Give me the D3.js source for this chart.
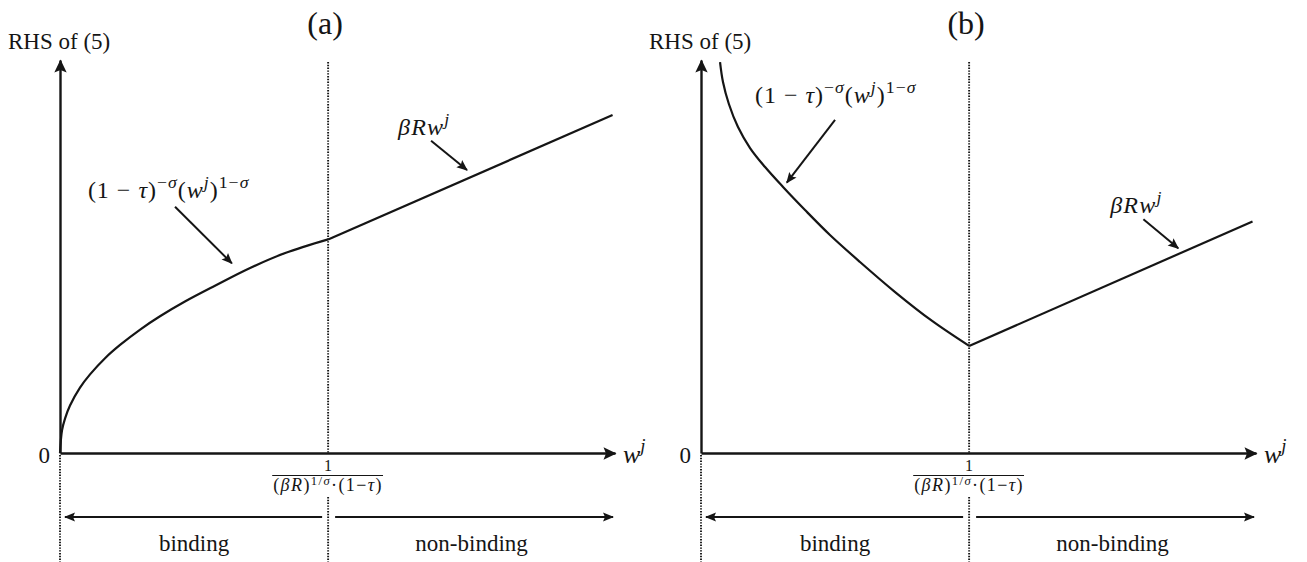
<!DOCTYPE html>
<html>
<head>
<meta charset="utf-8">
<script src="https://cdn.jsdelivr.net/npm/d3@7"></script>
<style>
  body { margin: 0; background: #fff; }
  svg text { font-family: "Liberation Serif", "Tinos", "DejaVu Serif", "Noto Serif", serif; fill: #151515; }
</style>
</head>
<body>
<svg id="chart" width="1307" height="562"></svg>
<script>
// Wage w^j is measured in units of the threshold 1/((βR)^{1/σ}(1−τ));
// the RHS of (5) in units of its value at that threshold.
const wMax = 2.07;
const threshold = 1;

// Panel (a): binding branch rises, then the linear βRw^j branch
const curveA_w = [0, 0.0075, 0.0187, 0.0373, 0.0746, 0.112, 0.168, 0.224, 0.299, 0.373, 0.466, 0.578, 0.709, 0.840, 1];
const curveA_y = [0, 0.106, 0.161, 0.222, 0.306, 0.368, 0.444, 0.506, 0.578, 0.640, 0.709, 0.783, 0.866, 0.936, 1];
const lineA_w = [1, 2.061];
const lineA_y = [1, 1.582];
const yMaxA = 1.84;

// Panel (b): binding branch falls, then the linear βRw^j branch
const curveB_w = [0.071, 0.082, 0.104, 0.138, 0.183, 0.239, 0.306, 0.388, 0.481, 0.593, 0.724, 0.862, 1];
const curveB_y = [3.651, 3.465, 3.259, 3.044, 2.848, 2.670, 2.484, 2.269, 2.036, 1.784, 1.503, 1.233, 1];
const lineB_w = [1, 2.057];
const lineB_y = [1, 2.162];
const yMaxB = 3.67;

// Text pieces: t = text, it = italic, sup = superscript
const curveLabel = [
  {t: "(1 − "}, {t: "τ", it: true}, {t: ")"},
  {t: "−", sup: true}, {t: "σ", sup: true, it: true},
  {t: "("}, {t: "w", it: true}, {t: "j", sup: true, it: true}, {t: ")"},
  {t: "1−", sup: true}, {t: "σ", sup: true, it: true}
];
const lineLabel = [{t: "βRw", it: true}, {t: "j", sup: true, it: true}];
const xAxisLabel = [{t: "w", it: true}, {t: "j", sup: true, it: true}];
const thresholdDen = [
  {t: "("}, {t: "βR", it: true}, {t: ")"},
  {t: "1/", sup: true}, {t: "σ", sup: true, it: true},
  {t: "·(1−"}, {t: "τ", it: true}, {t: ")"}
];
const regionLabels = ["binding", "non-binding"];

// Annotation anchors in data units: label start, arrow tail, arrow head
const panels = [
  {
    title: "(a)", left: 60, yMax: yMaxA,
    curve: d3.zip(curveA_w, curveA_y), line: d3.zip(lineA_w, lineA_y),
    curveNote: {label: [0.104, 1.194], from: [0.429, 1.153], to: [0.641, 0.888]},
    lineNote: {label: [1.261, 1.489], from: [1.384, 1.462], to: [1.518, 1.325]}
  },
  {
    title: "(b)", left: 701, yMax: yMaxB,
    curve: d3.zip(curveB_w, curveB_y), line: d3.zip(lineB_w, lineB_y),
    curveNote: {label: [0.201, 3.269], from: [0.500, 3.110], to: [0.320, 2.524]},
    lineNote: {label: [1.526, 2.241], from: [1.650, 2.183], to: [1.780, 1.912]}
  }
];

const ink = "#151515";
const serif = "Liberation Serif, Tinos, DejaVu Serif, serif";
const axisLen = 555, originY = 453, axisTop = 60;

const svg = d3.select("#chart");
const defs = svg.append("defs");
defs.append("marker")
  .attr("id", "axisHead").attr("markerUnits", "userSpaceOnUse")
  .attr("viewBox", "-14 -7 16 14").attr("refX", 0).attr("refY", 0)
  .attr("markerWidth", 16).attr("markerHeight", 14).attr("orient", "auto")
  .append("path").attr("d", "M1,0 L-12,-6.2 L-9.5,0 L-12,6.2 Z").attr("fill", ink);
defs.append("marker")
  .attr("id", "noteHead").attr("markerUnits", "userSpaceOnUse")
  .attr("viewBox", "-12 -6 14 12").attr("refX", 0).attr("refY", 0)
  .attr("markerWidth", 14).attr("markerHeight", 12).attr("orient", "auto")
  .append("path").attr("d", "M1,0 L-10,-4.6 L-8,0 L-10,4.6 Z").attr("fill", ink);

function addMath(textSel, pieces, size, raise = 0.42, supScale = 0.72) {
  let shift = 0;
  pieces.forEach(p => {
    const target = p.sup ? -raise * size : 0;
    const ts = textSel.append("tspan")
      .attr("dy", target - shift)
      .attr("font-size", p.sup ? size * supScale : size)
      .text(p.t);
    if (p.it) ts.attr("font-style", "italic");
    shift = target;
  });
  return textSel;
}

panels.forEach(p => {
  const g = svg.append("g");
  const x = d3.scaleLinear().domain([0, wMax]).range([p.left, p.left + axisLen]);
  const y = d3.scaleLinear().domain([0, p.yMax]).range([originY, axisTop]);
  const xt = x(threshold);

  // dotted guides: threshold line and the two region boundaries below the axis
  const dotted = (x1, y1, x2, y2) => g.append("line")
    .attr("x1", x1).attr("y1", y1).attr("x2", x2).attr("y2", y2)
    .attr("stroke", ink).attr("stroke-width", 1.9).attr("stroke-dasharray", "1.4,1.4");
  dotted(xt, 62, xt, originY);
  dotted(xt, 497, xt, 562);
  dotted(x(0), originY + 2, x(0), 562);

  // axes
  const xAxis = g.append("g").attr("transform", `translate(0,${originY})`)
    .call(d3.axisBottom(x).tickValues([]).tickSizeOuter(0));
  xAxis.select(".domain").attr("stroke", ink).attr("stroke-width", 2.4)
    .attr("marker-end", "url(#axisHead)");
  const yAxis = g.append("g").attr("transform", `translate(${p.left},0)`)
    .call(d3.axisLeft(y).tickValues([0]).tickFormat(d3.format("d"))
      .tickSize(0).tickPadding(10).tickSizeOuter(0));
  yAxis.select(".domain").attr("stroke", ink).attr("stroke-width", 2.4)
    .attr("marker-end", "url(#axisHead)");
  yAxis.selectAll(".tick text")
    .attr("font-family", serif).attr("font-size", 23)
    .attr("fill", ink).attr("dy", "0.42em");

  addMath(g.append("text").attr("x", x(wMax) + 8).attr("y", originY + 10), xAxisLabel, 26);

  g.append("text").attr("x", p.left - 52).attr("y", 49)
    .attr("font-size", 23).text("RHS of (5)");
  g.append("text").attr("x", xt - 3).attr("y", 34)
    .attr("text-anchor", "middle").attr("font-size", 32).text(p.title);

  // the two branches of the RHS
  const lineGen = d3.line().x(d => x(d[0])).y(d => y(d[1])).curve(d3.curveCatmullRom.alpha(0.5));
  g.append("path").datum(p.curve).attr("d", lineGen)
    .attr("fill", "none").attr("stroke", ink).attr("stroke-width", 2.2);
  g.append("path").datum(p.line).attr("d", d3.line().x(d => x(d[0])).y(d => y(d[1])))
    .attr("fill", "none").attr("stroke", ink).attr("stroke-width", 2.2);

  // annotations
  [[p.curveNote, curveLabel, 1.0], [p.lineNote, lineLabel, 1.2]].forEach(([n, pieces, ls]) => {
    addMath(g.append("text").attr("x", x(n.label[0])).attr("y", y(n.label[1]))
      .attr("letter-spacing", ls), pieces, 24, 0.42, 0.74);
    g.append("line")
      .attr("x1", x(n.from[0])).attr("y1", y(n.from[1]))
      .attr("x2", x(n.to[0])).attr("y2", y(n.to[1]))
      .attr("stroke", ink).attr("stroke-width", 2).attr("marker-end", "url(#noteHead)");
  });

  // threshold label as a fraction
  g.append("text").attr("x", xt).attr("y", 471).attr("text-anchor", "middle")
    .attr("font-size", 16).text("1");
  const den = addMath(g.append("text").attr("x", xt).attr("y", 491)
    .attr("text-anchor", "middle").attr("letter-spacing", 1.4), thresholdDen, 18, 0.32, 0.7);
  const bb = den.node().getBBox();
  g.append("line").attr("x1", bb.x - 1).attr("x2", bb.x + bb.width)
    .attr("y1", 475.5).attr("y2", 475.5).attr("stroke", ink).attr("stroke-width", 1);

  // binding / non-binding ranges
  const arrowY = 517;
  g.append("line").attr("x1", xt - 6).attr("x2", x(0) + 5)
    .attr("y1", arrowY).attr("y2", arrowY)
    .attr("stroke", ink).attr("stroke-width", 2).attr("marker-end", "url(#noteHead)");
  g.append("line").attr("x1", xt + 7).attr("x2", x(wMax) - 2)
    .attr("y1", arrowY).attr("y2", arrowY)
    .attr("stroke", ink).attr("stroke-width", 2).attr("marker-end", "url(#noteHead)");
  g.append("text").attr("x", (x(0) + xt) / 2).attr("y", 551)
    .attr("text-anchor", "middle").attr("font-size", 23).text(regionLabels[0]);
  g.append("text").attr("x", (xt + x(wMax)) / 2).attr("y", 551)
    .attr("text-anchor", "middle").attr("font-size", 23).text(regionLabels[1]);
});
</script>
</body>
</html>
